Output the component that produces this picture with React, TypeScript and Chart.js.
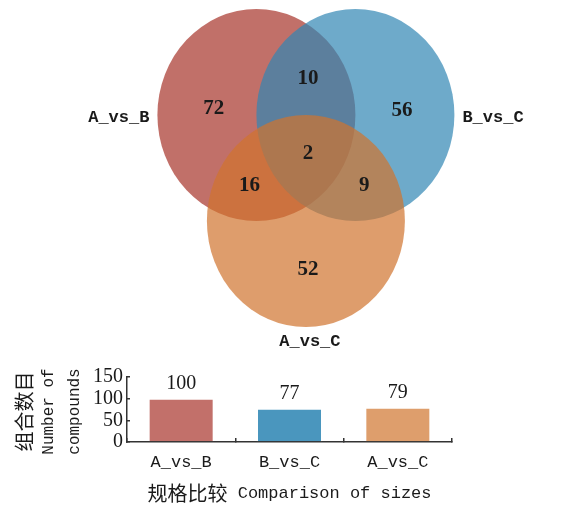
import React, { useEffect, useRef } from "react";
import { Chart, registerables } from "chart.js";

Chart.register(...registerables);

// ---------- Venn data ----------
const setNames = ["A_vs_B", "B_vs_C", "A_vs_C"];
const setCenterX = [-0.5, 0.5, 0];
const setCenterY = [0, 0, -1];
const setRadius = [1, 1, 1];
const setLabelSide = ["left", "right", "bottom"];
const setColors = ["rgb(166,51,42)", "rgb(48,134,179)", "rgb(208,116,45)"];

const regionCounts = [72, 56, 52, 10, 16, 9, 2];
const regionX = [-0.93, 0.97, 0.02, 0.02, -0.57, 0.59, 0.02];
const regionY = [0.06, 0.04, -1.46, 0.34, -0.67, -0.67, -0.36];

// ---------- Bar data ----------
const barCategories = ["A_vs_B", "B_vs_C", "A_vs_C"];
const barValues = [100, 77, 79];
const barColors = ["#C2706A", "#4A96BE", "#DE9E6C"];
const yTickMin = 0;
const yTickMax = 150;
const yTickStep = 50;
const yTitleLines = ["组合数目", "Number of", "compounds"];
const xTitle = "规格比较 Comparison of sizes";

const TEXT = "#1a1a1a";
const AXIS = "#333333";
const MONO = "'Liberation Mono', monospace";
const SERIF = "'Liberation Serif', serif";
const CJK = "'Noto Sans CJK SC', sans-serif";

function drawMixed(ctx: any, text: string, x: number, y: number, latinFont: string, cjkFont: string) {
  const runs = text.match(/[\u4e00-\u9fff]+|[^\u4e00-\u9fff]+/g) || [];
  const items = runs.map((r) => {
    const isCjk = /[\u4e00-\u9fff]/.test(r);
    ctx.font = isCjk ? cjkFont : latinFont;
    return { r, f: ctx.font, w: ctx.measureText(r).width };
  });
  const total = items.reduce((a, b) => a + b.w, 0);
  let cur = x - total / 2;
  ctx.textAlign = "left";
  ctx.textBaseline = "middle";
  for (const it of items) {
    ctx.font = it.f;
    ctx.fillText(it.r, cur, y);
    cur += it.w;
  }
}

const vennPlugin = {
  id: "venn",
  beforeDatasetsDraw(chart: any) {
    const { ctx, scales } = chart;
    const x = scales.x;
    const y = scales.y;
    setNames.forEach((name, i) => {
      const cx = x.getPixelForValue(setCenterX[i]);
      const cy = y.getPixelForValue(setCenterY[i]);
      const rx = x.getPixelForValue(setCenterX[i] + setRadius[i]) - cx;
      const ry = cy - y.getPixelForValue(setCenterY[i] + setRadius[i]);
      ctx.save();
      ctx.globalAlpha = 0.7;
      ctx.fillStyle = setColors[i];
      ctx.beginPath();
      ctx.ellipse(cx, cy, rx, ry, 0, 0, Math.PI * 2);
      ctx.fill();
      ctx.restore();

      ctx.save();
      ctx.fillStyle = TEXT;
      ctx.font = `bold 17px ${MONO}`;
      ctx.textBaseline = "middle";
      const side = setLabelSide[i];
      if (side === "left") {
        ctx.textAlign = "right";
        ctx.fillText(name, cx - rx - 8, cy + 3);
      } else if (side === "right") {
        ctx.textAlign = "left";
        ctx.fillText(name, cx + rx + 8, cy + 3);
      } else {
        ctx.textAlign = "center";
        ctx.fillText(name, cx + 4, cy + ry + 15);
      }
      ctx.restore();
    });
  },
  afterDatasetsDraw(chart: any) {
    const { ctx } = chart;
    const meta = chart.getDatasetMeta(0);
    ctx.save();
    ctx.fillStyle = TEXT;
    ctx.font = `bold 21px ${SERIF}`;
    ctx.textAlign = "center";
    ctx.textBaseline = "middle";
    meta.data.forEach((pt: any, i: number) => {
      ctx.fillText(String(regionCounts[i]), pt.x, pt.y);
    });
    ctx.restore();
  },
};

const barPlugin = {
  id: "barExtras",
  afterDatasetsDraw(chart: any) {
    const { ctx, chartArea } = chart;
    const meta = chart.getDatasetMeta(0);
    ctx.save();
    ctx.fillStyle = TEXT;
    ctx.font = `20px ${SERIF}`;
    ctx.textAlign = "center";
    ctx.textBaseline = "middle";
    meta.data.forEach((bar: any, i: number) => {
      ctx.fillText(String(barValues[i]), bar.x, bar.y - 15);
    });
    // y title (rotated, multi-line)
    const cy = (chartArea.top + chartArea.bottom) / 2 + 2;
    const lineX = [chartArea.left - 103, chartArea.left - 78, chartArea.left - 52];
    yTitleLines.forEach((line, i) => {
      ctx.save();
      ctx.translate(lineX[i], cy);
      ctx.rotate(-Math.PI / 2);
      drawMixed(ctx, line, 0, 0, `16px ${MONO}`, `20px ${CJK}`);
      ctx.restore();
    });
    // x title
    const cx = (chartArea.left + chartArea.right) / 2;
    drawMixed(ctx, xTitle, cx, chart.height - 12, `17px ${MONO}`, `20px ${CJK}`);
    ctx.restore();
  },
};

export default function App() {
  const vennRef = useRef<HTMLCanvasElement>(null);
  const barRef = useRef<HTMLCanvasElement>(null);

  useEffect(() => {
    const venn = new Chart(vennRef.current as any, {
      type: "scatter",
      data: {
        datasets: [
          {
            data: regionX.map((v, i) => ({ x: v, y: regionY[i] })),
            pointRadius: 0,
            pointHoverRadius: 0,
          },
        ],
      },
      options: {
        responsive: false,
        animation: false,
        layout: { padding: 0 },
        plugins: { legend: { display: false }, tooltip: { enabled: false } },
        scales: {
          x: { type: "linear", min: -3.09, max: 2.587, display: false },
          y: { type: "linear", min: -2.311, max: 1.085, display: false },
        },
      } as any,
      plugins: [vennPlugin as any],
    });

    const bar = new Chart(barRef.current as any, {
      type: "bar",
      data: {
        labels: barCategories,
        datasets: [
          {
            data: barValues,
            backgroundColor: barColors,
            borderColor: "rgba(255,255,255,0.55)",
            borderWidth: 1,
            barPercentage: 0.6,
            categoryPercentage: 1,
          },
        ],
      },
      options: {
        responsive: false,
        animation: false,
        layout: { padding: { left: 0, right: 110, top: 15, bottom: 0 } },
        plugins: { legend: { display: false }, tooltip: { enabled: false } },
        scales: {
          x: {
            grid: {
              display: true,
              drawOnChartArea: false,
              drawTicks: true,
              tickLength: -4,
              color: AXIS,
              lineWidth: 1.5,
              offset: true,
            },
            border: { display: true, color: AXIS, width: 1.5 },
            ticks: { font: { size: 17, family: MONO }, color: TEXT, padding: 14 },
            afterFit: (s: any) => {
              s.height = 63;
            },
          },
          y: {
            min: yTickMin,
            max: yTickMax,
            grid: {
              display: true,
              drawOnChartArea: false,
              drawTicks: true,
              tickLength: -3,
              color: AXIS,
              lineWidth: 1.5,
            },
            border: { display: true, color: AXIS, width: 1.5 },
            ticks: {
              stepSize: yTickStep,
              autoSkip: false,
              font: { size: 20, family: SERIF, lineHeight: 1 },
              color: TEXT,
              padding: 7,
            },
            afterFit: (s: any) => {
              s.width = 127;
            },
          },
        },
      } as any,
      plugins: [barPlugin as any],
    });

    return () => {
      venn.destroy();
      bar.destroy();
    };
  }, []);

  return (
    <div style={{ position: "fixed", left: 0, top: 0, width: 562, height: 505, background: "#fff" }}>
      <canvas ref={vennRef} width={562} height={360} style={{ position: "absolute", left: 0, top: 0 }} />
      <canvas ref={barRef} width={562} height={145} style={{ position: "absolute", left: 0, top: 360 }} />
    </div>
  );
}
